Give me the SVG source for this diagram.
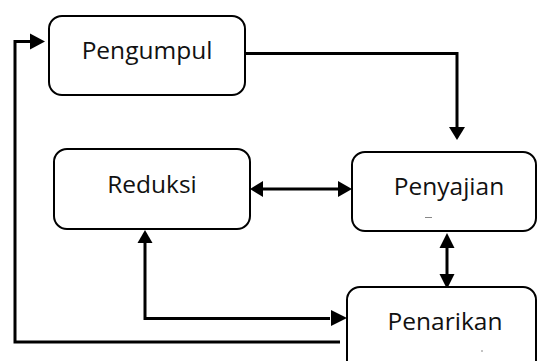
<svg xmlns="http://www.w3.org/2000/svg" width="537" height="361" viewBox="0 0 537 361">
<style>
.box{fill:#fff;stroke:#000;stroke-width:2}
.lbl{font-family:"Open Sans","Liberation Sans",sans-serif;font-size:24.5px;fill:#111;text-anchor:middle}
.ln{fill:none;stroke:#000;stroke-width:3}
.ah{fill:#000}
.mark{stroke:#888;stroke-width:1}
</style>
<rect width="537" height="361" fill="#fff"/>
<g id="connectors">
  <polyline class="ln" points="245,53.5 457,53.5 457,128"/>
  <polygon class="ah" points="449,127 465,127 457,140"/>
  <line class="ln" x1="262" y1="189" x2="340" y2="189"/>
  <polygon class="ah" points="250,189 263,181 263,197"/>
  <polygon class="ah" points="352,189 338,181 338,197"/>
  <line class="ln" x1="447" y1="246" x2="447" y2="276"/>
  <polygon class="ah" points="447,233 439.5,248 454.5,248"/>
  <polygon class="ah" points="447,289 439.5,274 454.5,274"/>
  <polyline class="ln" points="330,318.5 145,318.5 145,242"/>
  <polygon class="ah" points="145,230 137.5,243 152.5,243"/>
  <polygon class="ah" points="347,318 331,310 331,326"/>
  <polyline class="ln" points="340,342 15,342 15,41.5 32,41.5"/>
  <polygon class="ah" points="45,41.5 30,33.5 30,49.5"/>
</g>
<g id="pengumpul">
  <rect class="box" x="49" y="16" width="196" height="79" rx="13"/>
  <text class="lbl" x="147" y="59">Pengumpul</text>
</g>
<g id="reduksi">
  <rect class="box" x="54" y="149" width="196" height="80" rx="13"/>
  <text class="lbl" x="152" y="193">Reduksi</text>
</g>
<g id="penyajian">
  <rect class="box" x="352" y="152" width="184" height="79" rx="13"/>
  <text class="lbl" x="449" y="195">Penyajian</text>
  <line class="mark" x1="425" y1="217.5" x2="432" y2="217.5"/>
</g>
<g id="penarikan">
  <rect class="box" x="347" y="287" width="189" height="90" rx="13"/>
  <text class="lbl" x="445" y="330">Penarikan</text>
  <line class="mark" x1="481" y1="351" x2="483" y2="351"/>
</g>
</svg>
